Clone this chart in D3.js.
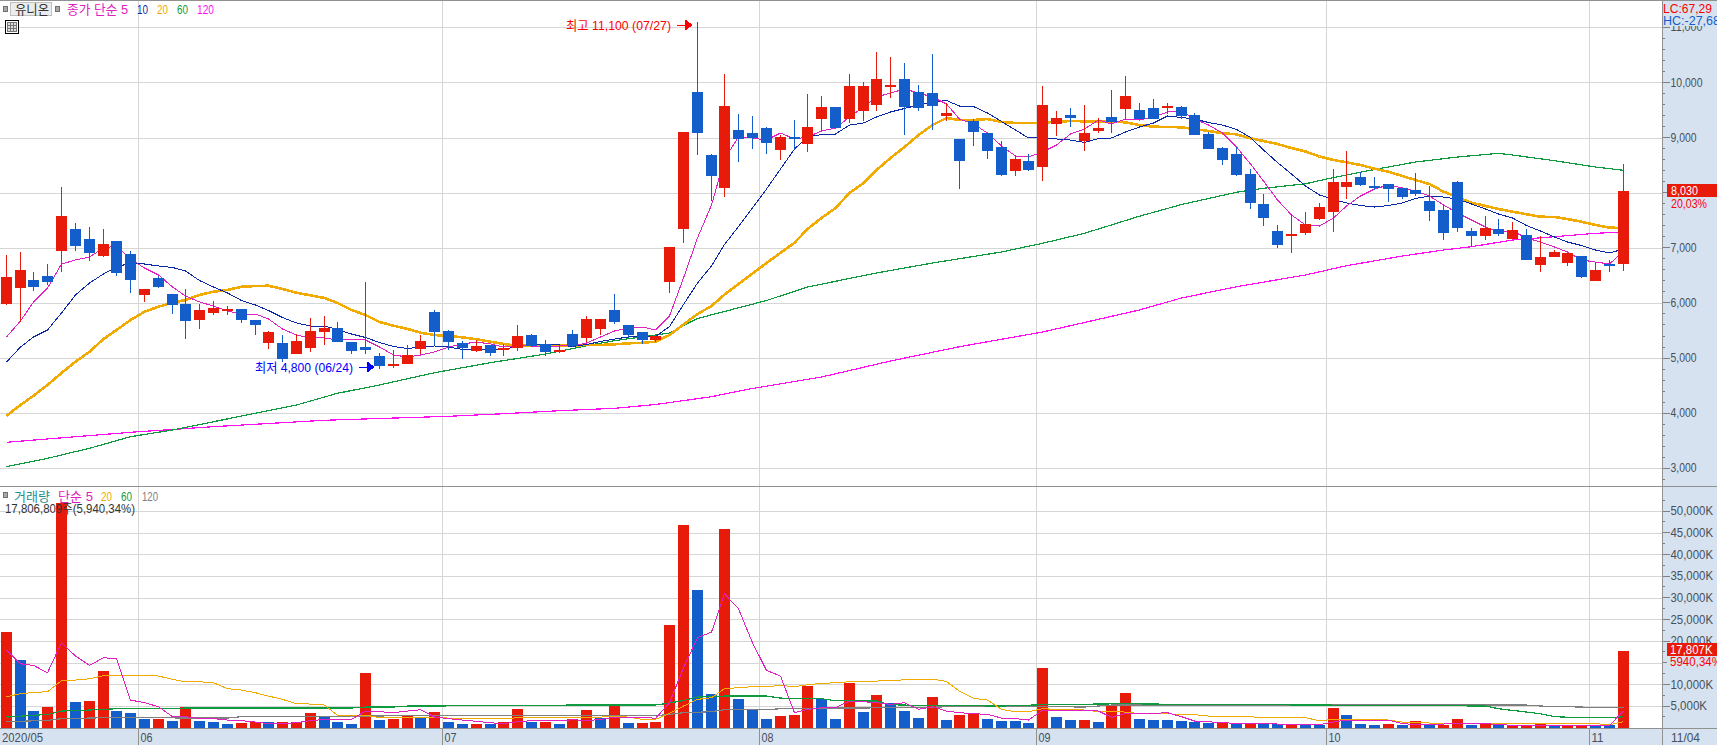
<!DOCTYPE html>
<html lang="ko">
<head>
<meta charset="utf-8">
<title>유니온</title>
<script src="https://cdn.jsdelivr.net/npm/d3@7"></script>
<style>
    html, body { margin: 0; padding: 0; background: #fff; overflow: hidden; }
    svg { display: block; }
    text { font-family: "Liberation Sans", "Noto Sans CJK KR", sans-serif; font-size: 13px; }
    .crisp, .crisp * { shape-rendering: crispEdges; }
</style>
</head>
<body>
<svg id="chart"></svg>
<script>
// Daily candles, 118 sessions
const opens = [5980,6270,6415,6490,6940,7340,7160,6850,7120,6885,6145,6450,6160,5980,5690,5815,5855,5890,5690,5275,5275,5075,5180,5475,5545,5290,5200,5035,4875,4890,5165,5835,5490,5275,5130,5235,5145,5180,5420,5255,5110,5435,5365,5525,5870,5600,5475,5325,6380,7340,9825,8685,8085,9135,9080,9175,8775,9010,8885,9335,9555,9335,9480,9590,9915,10060,9825,9810,9390,8975,9300,9080,8830,8395,8575,8465,9245,9410,8935,9120,9375,9520,9500,9535,9535,9555,9410,9065,8810,8700,8340,7795,7305,7215,7270,7520,7650,8105,8285,8120,8155,8085,8050,7850,7685,8195,7305,7215,7340,7160,7230,6690,6835,6725,6850,6400,6705,6705];
const highs = [6870,6925,6560,6705,8100,7450,7380,7340,7120,6940,6255,6490,6160,6255,5980,6035,5945,5890,5690,5490,5420,5435,5725,5765,5655,5290,6380,5090,5145,5235,5420,5870,5510,5310,5325,5235,5255,5600,5435,5325,5220,5510,5765,5710,6160,5600,5475,5400,7015,9100,11100,8700,10155,9425,9390,9190,9045,9320,9790,9755,9555,10155,10005,10550,10460,10350,9955,10515,9625,8975,9335,9080,8937,8685,8700,9935,9480,9535,9590,9355,9860,10115,9625,9700,9625,9570,9445,9100,8830,8830,8430,7975,7415,7615,7650,7810,8430,8755,8375,8285,8155,8085,8355,8120,7795,8210,7360,7575,7520,7470,7340,7215,6960,6905,6850,6740,6780,8520];
const lows = [5960,5655,6215,6325,6560,6940,6760,6835,6490,6180,6015,6270,5800,5345,5525,5780,5780,5635,5420,5165,4930,5075,5110,5235,5290,5075,5075,4800,4820,4890,5075,5235,5145,4985,5110,5035,5035,5130,5200,5035,5090,5200,5290,5420,5620,5365,5255,5290,6180,7085,8685,7850,7920,8555,8790,8700,8595,8790,8740,9135,9175,9265,9300,9480,9715,9045,9480,9135,9300,8065,8845,8610,8300,8300,8395,8210,9030,9190,8755,9080,9080,9320,9320,9335,9425,9335,9045,8790,8500,8300,7705,7395,6995,6905,7230,7505,7285,7885,8120,8050,7830,7885,7940,7485,7140,7285,7015,7140,7215,7160,6780,6560,6835,6670,6450,6400,6560,6580];
const closes = [6470,6595,6290,6380,7575,7030,6905,7070,6545,6415,6255,6290,5960,5670,5870,5910,5890,5690,5600,5475,4985,5310,5490,5545,5290,5130,5145,4855,4890,5055,5310,5475,5290,5180,5220,5090,5180,5400,5220,5110,5145,5220,5710,5710,5655,5420,5325,5400,7015,9100,9080,8300,9570,8975,8990,8900,9010,8975,9190,9555,9175,9935,9935,10060,9955,9555,9535,9570,9445,8575,9100,8755,8320,8610,8410,9590,9355,9355,9080,9175,9280,9755,9335,9335,9570,9390,9045,8790,8595,8320,7815,7540,7050,7250,7430,7740,8195,8195,8140,8085,8065,7920,7975,7665,7270,7360,7215,7360,7250,7325,6780,6835,6925,6905,6470,6595,6670,8030];

// Price moving averages, one reading per session
const ma5 = [5382,5672,6017,6271,6706,6779,6833,6996,7033,6797,6633,6507,6289,6126,6017,5944,5853,5799,5799,5708,5527,5418,5364,5364,5327,5345,5327,5200,5055,5019,5055,5110,5200,5255,5291,5255,5200,5219,5219,5200,5219,5219,5273,5382,5491,5545,5563,5509,5763,6452,7178,7776,8611,9010,8992,8955,9082,8974,9010,9119,9173,9373,9554,9735,9808,9881,9808,9735,9608,9336,9246,9082,8847,8665,8647,8738,8865,9064,9155,9318,9246,9336,9318,9373,9463,9481,9336,9227,9082,8828,8520,8212,7867,7595,7414,7395,7541,7758,7940,8066,8139,8085,8030,7940,7776,7631,7504,7377,7286,7305,7178,7105,7014,6924,6779,6742,6706,6942];
const ma10 = [4928,5200,5382,5509,5817,6144,6361,6525,6652,6724,6706,6670,6643,6579,6407,6289,6180,6044,5962,5862,5735,5636,5581,5581,5518,5436,5373,5282,5210,5173,5200,5219,5200,5155,5155,5155,5155,5210,5237,5246,5237,5210,5246,5300,5345,5382,5391,5391,5572,5971,6361,6670,7060,7386,7722,8066,8429,8792,9010,9055,9064,9227,9264,9373,9463,9527,9590,9645,9672,9572,9563,9445,9291,9137,8992,8992,8974,8955,8910,8983,8992,9100,9191,9264,9391,9363,9336,9273,9227,9146,9001,8774,8547,8339,8121,7958,7876,7813,7767,7740,7767,7813,7894,7940,7921,7885,7794,7704,7613,7541,7404,7305,7196,7105,7042,6960,6906,6978];
const ma20 = [3954,4148,4317,4511,4729,4934,5115,5345,5509,5690,5841,5931,6004,6053,6144,6204,6234,6294,6307,6312,6253,6185,6138,6089,5999,5872,5781,5654,5587,5527,5460,5418,5400,5376,5340,5297,5255,5224,5224,5224,5224,5224,5237,5237,5249,5267,5278,5297,5418,5609,5799,5944,6153,6343,6534,6724,6909,7091,7341,7541,7722,7994,8175,8411,8629,8828,9046,9227,9354,9318,9318,9336,9282,9264,9264,9269,9287,9300,9295,9287,9287,9276,9227,9197,9191,9186,9155,9119,9077,9059,8986,8937,8883,8810,8747,8656,8593,8551,8502,8435,8380,8302,8230,8157,8018,7916,7818,7758,7704,7655,7608,7564,7559,7522,7473,7414,7365,7359];
// Slow averages, read at the sessions listed
const ma60Days = [0,3,6,9,12,15,18,21,24,27,31,35,39,42,44,47,48,50,55,58,63,67,72,75,78,82,85,89,91,94,96,99,102,105,108,109,112,115,117];
const ma60 = [3029,3181,3363,3573,3695,3845,3998,4148,4361,4511,4734,4916,5073,5224,5315,5418,5454,5717,6044,6289,6543,6724,6924,7082,7263,7573,7785,8008,8079,8161,8275,8420,8556,8647,8714,8683,8580,8466,8406];
const ma120Days = [0,9,15,23,32,36,40,44,47,51,54,59,64,69,75,82,85,89,94,97,101,104,106,109,112,115,117];
const ma120 = [3472,3653,3755,3871,3943,3990,4045,4088,4157,4299,4448,4656,4946,5206,5472,5872,6089,6294,6507,6675,6851,6960,7020,7141,7201,7263,7286];

// Volume in thousands of shares
const volumes = [22000,15530,3770,4690,51800,5840,6075,13000,3770,3300,1920,1930,1460,4690,1460,1230,770,1000,1230,1220,1230,1240,3300,2380,1230,770,12530,1690,1920,2850,2150,3540,1230,770,780,760,1230,4230,1230,1240,770,1920,4000,2150,5150,1000,1010,1230,23600,46680,31680,7690,45760,6540,4000,1920,2615,2850,9540,6540,1920,10230,3540,7460,5610,3770,2150,7000,1690,2850,3075,1920,1470,1450,1000,13690,2380,1690,1700,1230,4920,7920,1920,1690,1680,1460,1230,1000,1150,770,780,770,760,770,540,530,4460,2850,770,540,770,540,1460,540,550,1920,540,770,540,550,560,770,530,540,550,530,520,17807];
const volMa5 = [17920,14760,14380,12690,19610,16530,14380,16150,15920,6380,5770,4845,2540,2540,2080,2080,1770,1615,1310,920,920,1150,1615,1920,1920,1920,3845,3690,3460,3845,4150,2460,2080,1770,1460,1150,920,1380,1615,1615,1615,1845,1615,1920,2380,2380,2460,2150,5770,13840,20760,22070,30910,27450,19610,13230,11920,3460,4230,4610,4610,6150,6000,5770,5380,5770,4230,4845,3845,3460,3230,3075,2230,2080,1770,4000,4000,4000,4000,3845,2380,3300,3300,3300,3460,2540,1540,1380,1150,1000,920,920,850,850,690,690,1310,1770,1770,1770,1770,920,770,690,850,920,920,920,770,540,460,460,460,460,460,460,540,3845];
const volMa20 = [7150,7840,8150,8300,10840,11000,11300,12000,12000,12150,12150,11920,11150,10600,10600,10380,9000,8690,8070,7300,6540,5540,5460,5230,2850,2690,2920,2300,2300,2300,2300,2300,2230,2080,2080,2080,2080,2300,2300,2300,2300,2300,2460,2460,2540,2460,1920,1920,3300,5000,6540,6920,9000,9230,9460,9460,9770,9460,9920,10230,10380,10610,10610,10770,10840,11070,11070,11230,10690,8380,6770,6380,4230,3690,3690,4380,4230,4230,4075,3690,3690,3615,3230,3230,3230,3000,3000,2690,2690,2540,2540,2300,2300,2300,2300,1615,1920,1920,1920,1920,1770,1310,1150,1080,1080,1080,1080,1080,1000,920,920,920,920,920,920,920,690,1380];
const volMa60Days = [0,2,3,4,6,8,12,13,25,26,28,29,36,41,47,48,49,50,52,55,56,58,59,60,63,64,66,72,75,81,85,95,100,107,108,110,111,112,114,116,117];
const volMa60 = [2460,2850,3075,3845,4075,4380,4380,4540,4540,4770,4770,5000,5075,5230,5230,5690,6300,7075,7300,7300,6840,6690,6690,6230,6150,5300,5150,5000,5300,5540,5380,5230,5150,5000,4380,3615,3230,2540,2300,2300,2540];
const volMa120Days = [0,3,4,7,16,17,30,36,47,48,49,51,52,55,56,60,66,68,72,78,80,110,111,113,116,117];
const volMa120 = [1380,1690,2080,2300,2230,2540,2770,2770,2770,3075,3460,3690,4150,4150,4380,4540,4610,4840,5000,4770,5230,5230,5000,4840,4610,4610];

// Axis labels
const monthStarts = [0,10,32,55,75,96,115];
const monthLabels = ['2020/05','06','07','08','09','10','11'];
const priceTicks = [3000,4000,5000,6000,7000,8000,9000,10000,11000];
const volumeTicks = [5000,10000,15000,20000,25000,30000,35000,40000,45000,50000];

const W = 1717, H = 745;
const plotRight = 1662, paneBottom = 486, volBottom = 728;
const RED = '#e81b0a', BLUE = '#135ecb', GRID = '#d6d6d6', LINE = '#919191', PANEL = '#d6e2f0', INK = '#46505a';
const colMa5 = '#e020c0', colMa10 = '#0a28a8', colMa20 = '#f0aa00', colMa60 = '#109a40', colMa120 = '#ff10f0', colGray = '#808080';

const svg = d3.select('#chart').attr('width', W).attr('height', H).attr('viewBox', `0 0 ${W} ${H}`);

// Scales
const days = d3.range(opens.length);
const step = 13.82;
const x = d3.scaleBand().domain(days).range([-0.61, -0.61 + step * days.length]);
const cx = i => Math.round(x(i) + step / 2 - 0.5);
const yPrice = d3.scaleLinear().domain([3000, 11000]).range([468.3, 27.3]);
const yVol = d3.scaleLinear().domain([0, 50000]).range([727.7, 511.1]);

// Right and bottom side panels
const frame = svg.append('g').attr('class', 'crisp');
frame.append('rect').attr('x', plotRight).attr('y', 0).attr('width', W - plotRight).attr('height', H).attr('fill', PANEL);
frame.append('rect').attr('x', 0).attr('y', volBottom).attr('width', W).attr('height', H - volBottom).attr('fill', PANEL);

// Grid
const grid = svg.append('g').attr('class', 'crisp').attr('stroke', GRID).attr('stroke-width', 1);
function hLines(scale, values) {
    grid.append('g').selectAll('line').data(values).join('line')
        .attr('x1', 0).attr('x2', plotRight)
        .attr('y1', d => Math.round(scale(d)) + 0.5)
        .attr('y2', d => Math.round(scale(d)) + 0.5);
}
hLines(yPrice, priceTicks);
hLines(yVol, volumeTicks);
const monthX = i => Math.round(x(i)) + 0.5;
grid.append('g').selectAll('line').data(monthStarts.slice(1)).join('line')
    .attr('x1', monthX).attr('x2', monthX).attr('y1', 0).attr('y2', volBottom);

// Clip for the two panes
const defs = svg.append('defs');
defs.append('clipPath').attr('id', 'clip-price').append('rect').attr('width', plotRight).attr('height', paneBottom);
defs.append('clipPath').attr('id', 'clip-vol').append('rect').attr('y', paneBottom).attr('width', plotRight).attr('height', volBottom - paneBottom);

// Moving average lines go under the candles, volume ones over the bars
function drawLine(parent, scale, values, daysUsed, color, width) {
    const line = d3.line().x((d, i) => cx(daysUsed[i]) + 0.5).y(d => scale(d));
    parent.append('path').attr('d', line(values))
        .attr('fill', 'none').attr('stroke', color).attr('stroke-width', width)
        .attr('stroke-linejoin', 'round').attr('shape-rendering', 'crispEdges');
}

const pricePane = svg.append('g').attr('clip-path', 'url(#clip-price)');
drawLine(pricePane, yPrice, ma120, ma120Days, colMa120, 1.2);
drawLine(pricePane, yPrice, ma60, ma60Days, colMa60, 1.2);
drawLine(pricePane, yPrice, ma20, days, colMa20, 2.6);
drawLine(pricePane, yPrice, ma10, days, colMa10, 1);
drawLine(pricePane, yPrice, ma5, days, colMa5, 1);

// Candles
const candles = pricePane.append('g').attr('class', 'crisp').selectAll('g').data(days).join('g')
    .attr('fill', i => closes[i] >= opens[i] ? RED : BLUE);
candles.append('rect')
    .attr('x', i => cx(i))
    .attr('width', 1)
    .attr('y', i => Math.round(yPrice(highs[i])))
    .attr('height', i => Math.round(yPrice(lows[i])) - Math.round(yPrice(highs[i])));
candles.append('rect')
    .attr('x', i => cx(i) - 5)
    .attr('width', 11)
    .attr('y', i => Math.round(yPrice(Math.max(opens[i], closes[i]))))
    .attr('height', i => Math.max(2, Math.round(yPrice(Math.min(opens[i], closes[i]))) - Math.round(yPrice(Math.max(opens[i], closes[i])))));

// Volume bars, red when above the day before
const volPane = svg.append('g').attr('clip-path', 'url(#clip-vol)');
volPane.append('g').attr('class', 'crisp').selectAll('rect').data(days).join('rect')
    .attr('x', i => cx(i) - 5)
    .attr('width', 11)
    .attr('y', i => Math.round(yVol(volumes[i])))
    .attr('height', i => volBottom - Math.round(yVol(volumes[i])))
    .attr('fill', i => i === 0 || volumes[i] > volumes[i - 1] ? RED : BLUE);
drawLine(volPane, yVol, volMa120, volMa120Days, colGray, 1.2);
drawLine(volPane, yVol, volMa60, volMa60Days, colMa60, 1.2);
drawLine(volPane, yVol, volMa20, days, colMa20, 1);
drawLine(volPane, yVol, volMa5, days, colMa5, 1);

// Frame lines
const lines = svg.append('g').attr('class', 'crisp').attr('stroke', LINE);
lines.append('line').attr('x1', 0).attr('x2', W).attr('y1', 0.5).attr('y2', 0.5);
lines.append('line').attr('x1', 0).attr('x2', W).attr('y1', paneBottom + 0.5).attr('y2', paneBottom + 0.5);
lines.append('line').attr('x1', 0).attr('x2', W).attr('y1', volBottom + 0.5).attr('y2', volBottom + 0.5);
lines.append('line').attr('x1', plotRight + 0.5).attr('x2', plotRight + 0.5).attr('y1', 0).attr('y2', H);
lines.append('g').selectAll('line').data(monthStarts.slice(1)).join('line')
    .attr('x1', monthX).attr('x2', monthX).attr('y1', volBottom).attr('y2', H);

// Text is squeezed to the width it has in the picture, the source font is a narrow bitmap one
function put(sel, w) {
    return sel.attr('textLength', w).attr('lengthAdjust', 'spacingAndGlyphs');
}
function label(px, py, str, color, w, anchor) {
    return put(svg.append('text').attr('x', px).attr('y', py).attr('fill', color)
        .attr('text-anchor', anchor || 'start').text(str), w);
}

// Axes
function sideAxis(scale, ticks, minor, fmt) {
    const g = svg.append('g').attr('class', 'crisp').attr('transform', `translate(${plotRight + 0.5},-0.5)`);
    g.append('g').call(d3.axisRight(scale).tickValues(minor).tickSize(2).tickFormat(''))
        .call(s => s.select('.domain').remove());
    const major = g.append('g').call(d3.axisRight(scale).tickValues(ticks).tickSize(7).tickPadding(1).tickFormat(fmt));
    major.select('.domain').remove();
    g.selectAll('.tick line').attr('stroke', '#808080');
    major.selectAll('text').attr('fill', INK).style('font-size', '13px').style('font-family', null)
        .attr('textLength', function() {
            const t = this.textContent;
            return (t.match(/\d/g).length * 6) + (t.match(/,/g).length * 2) + (t.endsWith('K') ? 10.5 : 0);
        })
        .attr('lengthAdjust', 'spacingAndGlyphs');
}
sideAxis(yPrice, priceTicks, d3.range(2800, 11400, 200), d3.format(','));
sideAxis(yVol, volumeTicks, d3.range(2500, 55000, 2500), d => d3.format(',')(d) + 'K');

// Right side readouts
const side = svg.append('g').attr('class', 'crisp');
side.append('rect').attr('x', plotRight + 1).attr('y', 1).attr('width', W - plotRight).attr('height', 25).attr('fill', PANEL);
side.append('rect').attr('x', 1667).attr('y', 184).attr('width', 50).attr('height', 13).attr('fill', RED);
side.append('rect').attr('x', 1667).attr('y', 197).attr('width', 50).attr('height', 12).attr('fill', PANEL);
side.append('rect').attr('x', 1667).attr('y', 643).attr('width', 50).attr('height', 13).attr('fill', RED);
side.append('rect').attr('x', 1667).attr('y', 656).attr('width', 50).attr('height', 12).attr('fill', PANEL);
label(1663, 13, 'LC:67,29', '#ff0000', 49);
label(1663, 25, 'HC:-27,68', '#135ecb', 57);
label(1671, 195, '8,030', '#fff', 27);
label(1671, 208, '20,03%', '#ff0000', 36);
label(1670, 654, '17,807K', '#fff', 42.5);
label(1670, 666, '5940,34%', '#ff0000', 52);

// Month labels under the chart
const monthWidth = d => d.length > 2 ? 41 : 12;
monthLabels.forEach((m, i) => {
    label(i === 0 ? 2 : monthX(monthStarts[i]) + 2, 742, m, INK, monthWidth(m));
});
label(1671, 742, '11/04', INK, 29);

// Legends
function smallBox(px, py) {
    svg.append('rect').attr('class', 'crisp').attr('x', px + 0.5).attr('y', py + 0.5).attr('width', 4).attr('height', 5)
        .attr('fill', '#a8a8a8').attr('stroke', '#707070');
}
smallBox(3, 6);
svg.append('rect').attr('class', 'crisp').attr('x', 10.5).attr('y', 2.5).attr('width', 41).attr('height', 13)
    .attr('fill', '#ececec').attr('stroke', '#c0c0c0');
label(15, 14, '유니온', '#333', 34);
smallBox(55, 6);
label(67, 14, '종가 단순 5', colMa5, 61);
label(137, 14, '10', colMa10, 11);
label(157, 14, '20', colMa20, 11);
label(177, 14, '60', colMa60, 11);
label(197, 14, '120', colMa120, 17);

// Table icon
const icon = svg.append('g').attr('class', 'crisp');
icon.append('rect').attr('x', 5.5).attr('y', 20.5).attr('width', 13).attr('height', 13).attr('fill', '#fff').attr('stroke', '#000');
icon.append('rect').attr('x', 7.5).attr('y', 22.5).attr('width', 9).attr('height', 9).attr('fill', '#ddd').attr('stroke', '#777');
icon.append('path').attr('d', 'M10.5 22.5V31.5M13.5 22.5V31.5M7.5 25.5H16.5M7.5 28.5H16.5').attr('stroke', '#777');

smallBox(3, 492);
label(14, 501, '거래량', '#1f9090', 36);
label(58, 501, '단순 5', colMa5, 35);
label(101, 501, '20', colMa20, 11);
label(121, 501, '60', colMa60, 11);
label(142, 501, '120', colGray, 16);
label(5, 513, '17,806,809주(5,940,34%)', '#333', 130);

// High and low notes
label(566, 30, '최고 11,100 (07/27)', '#ff0000', 105);
svg.append('path').attr('class', 'crisp').attr('d', 'M677 25H685M685 20L692 25L685 30Z').attr('stroke', '#ff0000').attr('fill', '#ff0000');
label(255, 372, '최저 4,800 (06/24)', '#0000ff', 98);
svg.append('path').attr('class', 'crisp').attr('d', 'M359 367H367M367 362L374 367L367 372Z').attr('stroke', '#0000ff').attr('fill', '#0000ff');
</script>
</body>
</html>
